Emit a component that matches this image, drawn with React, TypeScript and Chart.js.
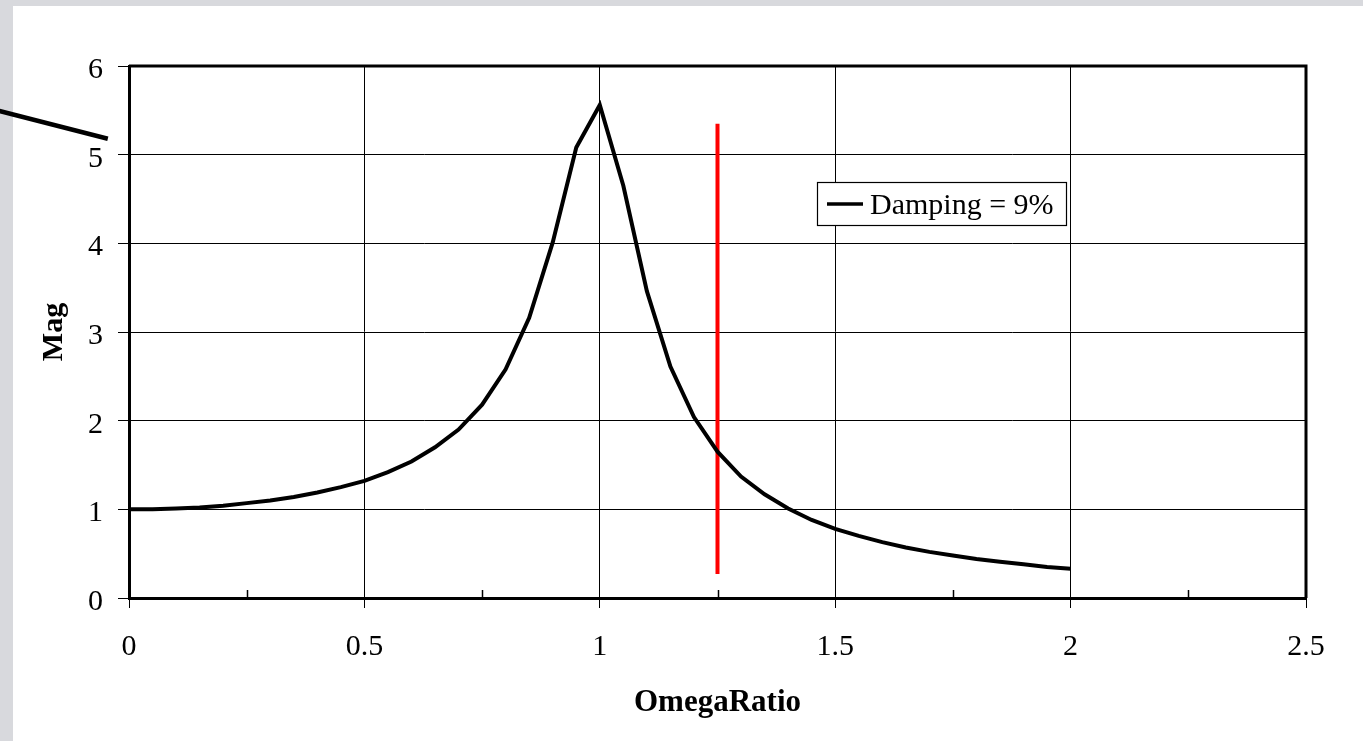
import React, { useEffect, useRef } from "react";
import { Chart, registerables } from "chart.js";

Chart.register(...registerables);

const omegaRatio = [
  0, 0.05, 0.1, 0.15, 0.2, 0.25, 0.3, 0.35, 0.4, 0.45, 0.5, 0.55, 0.6, 0.65, 0.7,
  0.75, 0.8, 0.85, 0.9, 0.95, 1.0, 1.05, 1.1, 1.15, 1.2, 1.25, 1.3, 1.35, 1.4,
  1.45, 1.5, 1.55, 1.6, 1.65, 1.7, 1.75, 1.8, 1.85, 1.9, 1.95, 2.0,
];
const magnitude = [
  1.0, 1.0, 1.01, 1.02, 1.04, 1.07, 1.1, 1.14, 1.19, 1.25, 1.32, 1.42, 1.54, 1.7,
  1.9, 2.18, 2.58, 3.16, 4.01, 5.08, 5.56, 4.65, 3.46, 2.61, 2.04, 1.65, 1.37,
  1.17, 1.01, 0.88, 0.78, 0.7, 0.63, 0.57, 0.52, 0.48, 0.44, 0.41, 0.38, 0.35, 0.33,
];
const seriesLabel = "Damping = 9%";

const markerX = [1.25, 1.25];
const markerY = [5.35, 0.27];

const strayX = [-0.28, -0.045];
const strayY = [5.5, 5.18];

const xTickValues = [0, 0.5, 1, 1.5, 2, 2.5];
const xMinorTicks = [0.25, 0.75, 1.25, 1.75, 2.25];
const yTickValues = [0, 1, 2, 3, 4, 5, 6];

const xTitle = "OmegaRatio";
const yTitle = "Mag";

const SERIF = '"Liberation Serif", "Times New Roman", serif';

export default function App() {
  const canvasRef = useRef<HTMLCanvasElement | null>(null);

  useEffect(() => {
    const canvas = canvasRef.current;
    if (!canvas) return;

    const decor = {
      id: "decor",
      afterDatasetsDraw(chart: any) {
        const { ctx, chartArea: a, scales } = chart;
        const x = scales.x;
        ctx.save();
        ctx.strokeStyle = "#000";
        ctx.lineWidth = 3;
        ctx.beginPath();
        ctx.moveTo(a.left, a.top);
        ctx.lineTo(a.right, a.top);
        ctx.lineTo(a.right, a.bottom);
        ctx.stroke();
        ctx.lineWidth = 1.5;
        for (const v of xMinorTicks) {
          const px = Math.round(x.getPixelForValue(v)) + 0.5;
          ctx.beginPath();
          ctx.moveTo(px, a.bottom);
          ctx.lineTo(px, a.bottom - 8);
          ctx.stroke();
        }
        const lx = 817.5, ly = 182.5, lw = 249, lh = 43;
        ctx.fillStyle = "#fff";
        ctx.fillRect(lx, ly, lw, lh);
        ctx.lineWidth = 1.2;
        ctx.strokeRect(lx, ly, lw, lh);
        ctx.lineWidth = 3.5;
        ctx.beginPath();
        ctx.moveTo(827, 204);
        ctx.lineTo(863, 204);
        ctx.stroke();
        ctx.fillStyle = "#000";
        ctx.font = `30px ${SERIF}`;
        ctx.textAlign = "left";
        ctx.textBaseline = "middle";
        ctx.fillText(chart.data.datasets[0].label, 870, 206);
        ctx.restore();
      },
    };

    const chart = new Chart(canvas, {
      type: "scatter",
      data: {
        datasets: [
          {
            label: seriesLabel,
            data: omegaRatio.map((v, i) => ({ x: v, y: magnitude[i] })),
            showLine: true,
            borderColor: "#000",
            borderWidth: 4,
            pointRadius: 0,
            tension: 0,
            fill: false,
          },
          {
            label: "marker",
            data: markerX.map((v, i) => ({ x: v, y: markerY[i] })),
            showLine: true,
            borderColor: "#ff0000",
            borderWidth: 4,
            pointRadius: 0,
            borderCapStyle: "butt",
          },
          {
            label: "stray",
            data: strayX.map((v, i) => ({ x: v, y: strayY[i] })),
            showLine: true,
            borderColor: "#000",
            borderWidth: 4.5,
            pointRadius: 0,
            clip: false,
          } as any,
        ],
      },
      options: {
        responsive: false,
        animation: false,
        devicePixelRatio: 1,
        layout: { padding: { top: 66, right: 57, left: 0, bottom: 0 } },
        plugins: {
          legend: { display: false },
          tooltip: { enabled: false },
        },
        scales: {
          x: {
            type: "linear",
            min: 0,
            max: 2.5,
            afterBuildTicks: (s: any) => {
              s.ticks = xTickValues.map((v) => ({ value: v }));
            },
            afterFit: (s: any) => {
              s.height = 143;
            },
            ticks: {
              color: "#000",
              font: { family: SERIF, size: 30 },
              padding: 21,
              maxRotation: 0,
              autoSkip: false,
              callback: (v: any) => String(v),
            },
            grid: { color: "#000", lineWidth: 1, tickLength: 10, drawTicks: true },
            border: { color: "#000", width: 3 },
            title: {
              display: true,
              text: xTitle,
              color: "#000",
              font: { family: SERIF, size: 31, weight: "bold" },
              padding: { top: 0, bottom: 19 },
            },
          },
          y: {
            type: "linear",
            min: 0,
            max: 6,
            afterBuildTicks: (s: any) => {
              s.ticks = yTickValues.map((v) => ({ value: v }));
            },
            afterFit: (s: any) => {
              s.width = 129;
            },
            ticks: {
              color: "#000",
              font: { family: SERIF, size: 30 },
              padding: 15,
              labelOffset: 4,
              autoSkip: false,
              callback: (v: any) => String(v),
            },
            grid: { color: "#000", lineWidth: 1, tickLength: 11, drawTicks: true },
            border: { color: "#000", width: 3 },
            title: {
              display: true,
              text: yTitle,
              color: "#000",
              font: { family: SERIF, size: 30, weight: "bold" },
              padding: { top: 36, bottom: 0 },
            },
          },
        },
      },
      plugins: [decor],
    });

    return () => chart.destroy();
  }, []);

  return (
    <div
      style={{
        position: "fixed",
        left: 0,
        top: 0,
        width: 1363,
        height: 741,
        background: "#d8d9dd",
        overflow: "hidden",
      }}
    >
      <div
        style={{
          position: "absolute",
          left: 13,
          top: 6,
          right: 0,
          bottom: 0,
          background: "#ffffff",
        }}
      />
      <canvas
        ref={canvasRef}
        width={1363}
        height={741}
        style={{ position: "absolute", left: 0, top: 0, width: 1363, height: 741 }}
      />
    </div>
  );
}
